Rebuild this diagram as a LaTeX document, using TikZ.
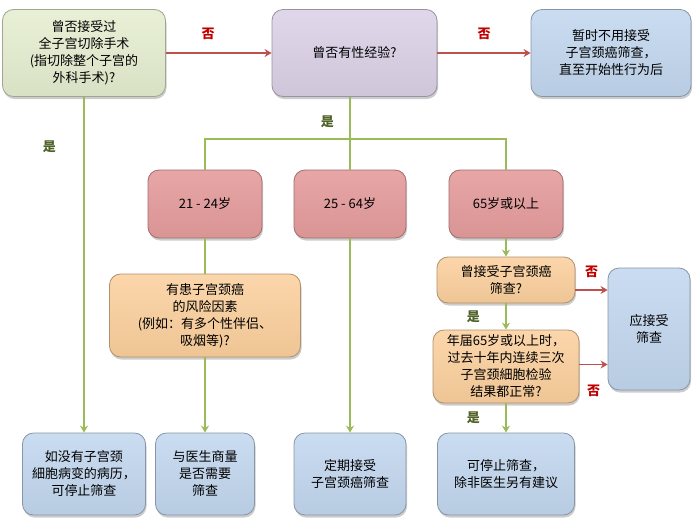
\documentclass[tikz,border=0pt]{standalone}
\usepackage{fontspec}
\setmainfont{Noto Sans CJK SC}
\usetikzlibrary{arrows.meta, shadows}
\definecolor{boxgreen}{HTML}{E4EDCF}
\definecolor{boxpurple}{HTML}{DAD0E6}
\definecolor{boxblue}{HTML}{C1D6EE}
\definecolor{boxpink}{HTML}{E59C9C}
\definecolor{boxorange}{HTML}{FBCF9C}
\definecolor{linegreen}{HTML}{9BBB59}
\definecolor{linered}{HTML}{C0504D}
\definecolor{yestext}{HTML}{4F6228}
\definecolor{notext}{HTML}{C00000}

\begin{document}
\begin{tikzpicture} [%
    x = 1pt,
    y = -1pt,
    >= { Stealth[length=7pt, width=8pt] },
    font = \fontsize{13}{17}\selectfont,
    card/.style = {%
      rounded corners = 11pt,
      align = center,
      inner sep = 2pt,
      line width = 0.8pt,
      drop shadow = {shadow xshift=1pt, shadow yshift=-2.5pt, opacity=0.4} },
    greencard/.style = {card, draw=boxgreen!70!black, top color=boxgreen!85!white, bottom color=boxgreen!95!black},
    purplecard/.style = {card, draw=boxpurple!70!black, top color=boxpurple!85!white, bottom color=boxpurple!95!black},
    bluecard/.style = {card, draw=boxblue!70!black, top color=boxblue!85!white, bottom color=boxblue!95!black},
    pinkcard/.style = {card, draw=boxpink!70!black, top color=boxpink!90!white, bottom color=boxpink!95!black},
    orangecard/.style = {card, draw=boxorange!70!black, top color=boxorange!85!white, bottom color=boxorange!95!black},
    yesline/.style = {draw=linegreen, line width=1.8pt},
    noline/.style = {draw=linered, line width=1.8pt},
    yeslabel/.style = {text=yestext, font=\fontsize{13}{15}\selectfont\bfseries},
    nolabel/.style = {text=notext, font=\fontsize{13}{15}\selectfont\bfseries}
  ]

  \useasboundingbox (0,0) rectangle (697,523);

  % top row
  \node[greencard, minimum width=163pt, minimum height=87pt] (hyst) at (84,53)
    {曾否接受过\\全子宫切除手术\\(指切除整个子宫的\\外科手术)?};
  \node[purplecard, minimum width=165pt, minimum height=87pt] (sexq) at (354.5,53) {曾否有性经验?};
  \node[bluecard, minimum width=160pt, minimum height=87pt] (wait) at (611,53)
    {暂时不用接受\\子宫颈癌筛查，\\直至开始性行为后};

  % age groups
  \node[pinkcard, minimum width=114pt, minimum height=68pt] (ageA) at (205,204) {21 - 24岁};
  \node[pinkcard, minimum width=112pt, minimum height=68pt] (ageB) at (350,204) {25 - 64岁};
  \node[pinkcard, minimum width=114pt, minimum height=68pt] (ageC) at (506,204) {65岁或以上};

  % questions
  \node[orangecard, minimum width=191pt, minimum height=83pt] (risk) at (205,315.5)
    {有患子宫颈癌\\的风险因素\\(例如：有多个性伴侣、\\吸烟等)?};
  \node[orangecard, minimum width=138pt, minimum height=46pt] (screened) at (506,280)
    {曾接受子宫颈癌\\筛查?};
  \node[orangecard, minimum width=146pt, minimum height=73pt] (normal) at (506,366.5)
    {年届65岁或以上时，\\过去十年内连续三次\\子宫颈細胞检验\\结果都正常?};
  \node[bluecard, minimum width=82pt, minimum height=122pt] (should) at (649,329) {应接受\\筛查};

  % outcomes
  \node[bluecard, minimum width=123pt, minimum height=82pt] (stopA) at (84,474)
    {如没有子宫颈\\細胞病变的病历，\\可停止筛查};
  \node[bluecard, minimum width=99pt, minimum height=82pt] (discuss) at (205,474)
    {与医生商量\\是否需要\\筛查};
  \node[bluecard, minimum width=112pt, minimum height=82pt] (regular) at (350,474)
    {定期接受\\子宫颈癌筛查};
  \node[bluecard, minimum width=137pt, minimum height=82pt] (stopB) at (506,474)
    {可停止筛查，\\除非医生另有建议};

  \coordinate (split) at (350,139);

  \draw[noline, ->] (hyst) -- (sexq) node[pos=0.4, above=9pt, nolabel] {否};
  \draw[noline, ->] (sexq) -- (wait) node[midway, above=9pt, nolabel] {否};
  \draw[yesline, ->] (hyst) -- (stopA) node[pos=0.15, left=24pt, yeslabel] {是};

  \draw[yesline] (sexq.south -| split) -- (split) node[pos=0.6, left=12pt, yeslabel] {是};
  \draw[yesline] (split) -| (ageA);
  \draw[yesline] (split) -| (ageC);
  \draw[yesline] (split) -- (ageB);

  \draw[yesline] (ageA) -- (risk);
  \draw[yesline, ->] (risk) -- (discuss);
  \draw[yesline, ->] (ageB) -- (regular);
  \draw[yesline, ->] (ageC) -- (screened);
  \draw[yesline, ->] (screened) -- (normal) node[midway, left=22pt, yeslabel] {是};
  \draw[yesline, ->] (normal) -- (stopB) node[midway, left=22pt, yeslabel] {是};

  \draw[noline, ->] ([yshift=-10pt]screened.east) coordinate (noA) -- (noA -| should.west)
    node[midway, above=8pt, nolabel] {否};
  \draw[noline, ->] ([yshift=2pt]normal.east) coordinate (noB) -- (noB -| should.west)
    node[midway, below=16pt, nolabel] {否};

\end{tikzpicture}
\end{document}
